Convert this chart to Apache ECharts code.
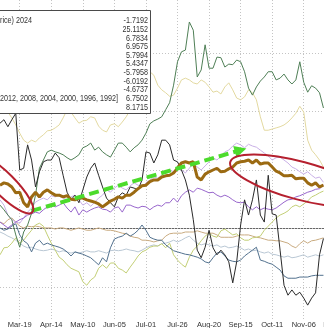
<!DOCTYPE html>
<html>
<head>
<meta charset="utf-8">
<script src="https://cdn.jsdelivr.net/npm/echarts@6/dist/echarts.min.js"></script>
<style>
  html, body { margin: 0; padding: 0; background: #fff; }
  #chart { width: 324px; height: 328px; }
</style>
</head>
<body>
<div id="chart"></div>
<script>
// Axis ticks: one label every 8 sample points, first labelled point is index 5
const tickLabels = ['Mar-19', 'Apr-14', 'May-10', 'Jun-05', 'Jul-01', 'Jul-26', 'Aug-20', 'Sep-15', 'Oct-11', 'Nov-06', 'Dec-02'];
const pointsPerTick = 8;
const firstTick = 5;
const categoryCount = firstTick + pointsPerTick * (tickLabels.length - 1) + 1;
const categories = Array.from({ length: categoryCount }, (_, i) => String(i));

// Horizontal reference levels (%)
const gridLevels = [-10, 0, 10, 20, 30];

// Seasonal paths, % change
const y2024 = [
  18.0, 18.6, 17.4, 18.6, 19.7, 10.0, 10.3, 14.3, 11.7, 7.1,
  9.7, 11.4, 11.7, 11.7, 12.9, 12.1, 9.1, 6.2, 4.9, 5.7,
  4.4, 6.6, 8.8, 10.3, 11.2, 9.1, 7.1, 5.2, 4.4, 3.7,
  5.4, 6.1, 5.7, 7.1, 6.9, 6.6, 8.3, 13.1, 12.9, 11.2,
  12.6, 15.1, 15.1, 14.3, 11.7, 11.4, 10.0, 8.3, 5.7, 1.5,
  -3.7, -5.0, -3.2, -0.3, -3.3, -4.5, -3.7, -4.5, -5.7, -9.3,
  -5.7, 0.6, 4.9, 2.3, 4.9, 8.3, 2.3, 1.1, 9.1, 2.5,
  2.3, -3.7, -9.7, -11.4, -10.5, -11.4, -10.9, -11.9, -13.1, -11.9,
  -11.0, -4.5, -1.7
];
const y2020 = [
  4.0, 3.2, 2.3, 1.5, -1.1, -3.2, -0.6, 0.6, 2.6, 5.7,
  10.3, 11.7, 13.1, 13.4, 13.1, 12.9, 12.6, 12.1, 11.7, 12.1,
  12.6, 13.8, 14.1, 14.6, 13.4, 13.9, 13.1, 12.6, 12.2, 13.4,
  14.6, 14.6, 13.9, 13.1, 13.8, 14.3, 15.1, 16.3, 17.9, 18.4,
  18.7, 19.1, 20.3, 21.5, 24.5, 28.5, 30.2, 30.5, 35.3, 33.9,
  25.9, 27.1, 31.4, 27.4, 27.4, 29.3, 29.2, 27.6, 28.1, 28.0,
  28.8, 28.5, 26.8, 24.0, 22.8, 24.2, 25.2, 25.9, 26.8, 26.8,
  25.4, 25.7, 26.4, 25.4, 24.7, 25.4, 28.5, 25.0, 23.3, 24.4,
  24.0, 23.2, 20.6
];
const y2016 = [
  20.6, 21.3, 19.9, 18.9, 17.7, 16.3, 15.1, 14.6, 15.1, 14.8,
  15.5, 16.0, 16.7, 16.8, 17.2, 17.7, 18.9, 20.3, 19.9, 18.9,
  18.0, 18.4, 18.5, 19.1, 18.9, 17.5, 16.8, 16.5, 17.7, 17.9,
  17.4, 18.2, 19.1, 20.3, 20.6, 22.0, 23.7, 25.0, 26.8, 26.2,
  24.5, 23.7, 23.2, 22.6, 22.8, 24.0, 25.4, 25.7, 25.4, 24.9,
  24.7, 25.4, 25.0, 24.2, 23.3, 23.5, 23.0, 24.2, 24.9, 23.7,
  22.3, 22.0, 22.5, 23.7, 23.2, 22.0, 19.1, 16.8, 16.8, 17.0,
  17.2, 17.4, 17.7, 18.2, 18.9, 19.7, 20.9, 19.9, 15.1, 13.4,
  12.6, 11.7, 10.5
];
const y2012 = [
  1.1, 0.6, 0.1, 0.6, 1.1, 1.5, 1.8, 2.3, 2.5, 2.8,
  2.6, 3.2, 3.7, 4.0, 3.7, 4.0, 4.4, 3.5, 2.8, 3.7,
  2.3, 3.2, 2.8, 3.2, 3.5, 3.7, 3.3, 3.2, 2.8, 3.5,
  3.7, 2.8, 4.0, 4.0, 3.7, 3.5, 3.8, 3.7, 3.2, 3.7,
  4.0, 3.8, 4.4, 4.4, 5.2, 4.5, 5.6, 6.2, 6.6, 6.2,
  6.9, 6.7, 6.4, 6.1, 6.2, 5.7, 5.4, 5.7, 5.4, 4.9,
  4.5, 4.4, 4.5, 3.7, 3.2, 3.7, 3.2, 3.5, 3.3, 3.2,
  3.5, 4.0, 4.5, 4.9, 5.0, 5.4, 5.6, 5.9, 6.2, 6.4,
  6.7, 6.8, 7.4
];
const y2008 = [
  4.9, 4.0, 2.3, 1.5, 1.1, 0.9, 1.8, 2.8, 3.5, 4.5,
  4.9, 5.2, 4.9, 5.6, 5.4, 5.9, 5.2, 4.9, 5.4, 5.7,
  4.9, 4.0, 4.4, 3.8, 4.5, 5.2, 5.7, 6.6, 6.2, 6.9,
  7.4, 6.9, 6.6, 7.3, 7.8, 7.4, 7.1, 7.8, 8.3, 8.8,
  8.6, 9.1, 9.7, 10.0, 9.7, 10.3, 10.0, 9.5, 10.3, 11.2,
  10.5, 10.0, 10.7, 11.4, 12.1, 11.7, 12.4, 13.1, 13.4, 14.1,
  14.6, 14.3, 13.8, 14.4, 14.1, 13.9, 13.4, 12.9, 12.4, 11.7,
  12.1, 12.2, 11.7, 11.2, 10.5, 10.2, 9.7, 9.3, 9.7, 9.1,
  8.6, 8.8, 7.9
];
const y2004 = [
  0.1, -0.3, -0.1, 0.4, 0.8, -1.1, -2.1, -2.6, -4.0, -2.5,
  -2.0, -2.8, -2.5, -2.8, -3.0, -3.2, -3.5, -4.0, -4.7, -4.0,
  -4.2, -4.4, -4.7, -5.0, -5.6, -6.2, -5.0, -5.7, -3.3, -1.8,
  -1.5, -1.3, -0.8, -1.3, -0.9, -0.3, 0.6, -0.3, -1.5, -1.8,
  -2.0, -2.0, -2.8, -3.3, -3.8, -4.0, -4.2, -4.4, -4.5, -4.7,
  -4.9, -5.2, -5.7, -5.9, -5.0, -4.2, -4.0, -4.7, -5.4, -5.6,
  -5.7, -5.4, -4.7, -4.2, -3.7, -3.2, -5.4, -5.6, -5.9, -6.1,
  -6.6, -7.1, -8.1, -8.5, -8.5, -8.5, -8.3, -8.3, -8.3, -8.1,
  -8.0, -8.0, -8.0
];
const y2000 = [
  -4.5, -3.3, -3.2, -2.5, -1.6, -2.5, -2.0, -1.1, -0.3, 0.6,
  0.9, 0.4, -1.1, -2.5, -3.7, -4.9, -5.4, -6.2, -6.8, -7.1,
  -7.4, -9.1, -9.7, -8.8, -8.3, -6.8, -6.2, -6.8, -5.9, -5.9,
  -6.8, -7.1, -7.6, -6.6, -5.7, -4.7, -4.0, -3.7, -3.2, -3.0,
  -3.0, -2.6, -3.3, -2.5, -4.5, -5.4, -6.1, -6.6, -4.9, -3.7,
  -3.0, -2.1, -1.3, -0.8, -1.3, -1.5, -0.4, -0.1, -0.6, -1.1,
  -0.9, -1.6, -2.0, -2.0, -1.6, -1.5, -1.3, -0.3, 0.4, 1.1,
  1.8, 2.3, 2.6, 3.0, 3.7, 4.0, 3.7, 4.2, 4.7, 5.4,
  5.7, 6.1, 6.4
];
const y1996 = [
  1.1, 0.8, 1.5, 1.8, 1.1, 0.4, 0.1, 0.4, 0.3, 0.4,
  0.3, 0.1, 0.1, 0.1, -0.1, 0.1, 0.1, -0.1, -0.3, -0.1,
  0.1, -0.1, -0.3, -0.3, -0.1, 0.1, -0.1, -0.3, -0.3, -0.4,
  -0.6, -0.8, -0.9, -1.3, -1.5, -1.6, -2.0, -2.0, -2.1, -2.3,
  -2.1, -2.0, -1.3, -0.9, -0.8, -0.8, -0.8, -0.6, -0.6, -0.6,
  -0.4, -0.6, -0.8, -0.8, -0.8, -1.1, -1.5, -1.5, -1.5, -1.5,
  -1.3, -1.1, -1.1, -1.1, -1.3, -1.5, -1.6, -1.8, -2.0, -2.0,
  -2.1, -2.1, -2.3, -2.5, -3.0, -3.3, -2.6, -2.1, -2.5, -2.1,
  -2.0, -1.8, -1.6
];
const y1992 = [
  -0.6, -0.9, -1.3, -1.6, -2.0, -2.5, -3.0, -3.3, -3.2, -3.5,
  -3.7, -3.8, -3.7, -3.5, -3.7, -4.0, -3.8, -4.0, -4.2, -4.0,
  -4.2, -4.0, -3.8, -4.0, -4.0, -3.8, -4.0, -4.2, -3.8, -3.7,
  -3.8, -3.7, -3.5, -3.7, -3.8, -4.0, -3.7, -3.3, -3.0, -2.8,
  -3.0, -2.6, -2.5, -2.3, -2.0, -2.3, -2.0, -1.6, -1.3, -2.0,
  -2.5, -2.8, -2.6, -2.8, -3.0, -2.8, -3.2, -3.0, -3.3, -3.2,
  -3.0, -3.3, -3.7, -3.5, -3.8, -3.7, -4.0, -4.2, -4.0, -4.4,
  -4.5, -4.7, -4.9, -4.7, -5.0, -4.9, -4.7, -4.5, -4.9, -4.7,
  -4.5, -4.7, -4.5
];
const yAverage = [
  7.4, 7.8, 7.6, 7.1, 6.1, 6.2, 4.4, 3.7, 5.4, 6.2,
  5.4, 6.2, 6.6, 6.1, 5.7, 5.7, 5.4, 5.6, 5.0, 4.9,
  5.2, 5.2, 4.9, 4.7, 4.5, 4.2, 3.7, 4.2, 4.7, 5.0,
  5.4, 5.2, 5.7, 5.7, 6.2, 6.8, 7.3, 7.4, 8.0, 8.3,
  8.3, 8.8, 9.0, 9.1, 9.5, 10.3, 11.2, 11.4, 11.2, 11.4,
  8.8, 8.3, 9.3, 9.7, 10.0, 10.3, 9.7, 9.8, 10.2, 10.5,
  11.2, 11.4, 11.5, 11.7, 11.2, 11.7, 11.0, 11.2, 11.2, 10.5,
  9.8, 9.5, 9.0, 9.0, 9.1, 8.5, 8.6, 8.6, 7.8, 7.4,
  7.8, 7.1, 7.4
];

// Legend panel text
const legendTitleTail = 'rice) 2024';
const averageYearsTail = '2012, 2008, 2004, 2000, 1996, 1992]';
const legendValues = ['-1.7192', '25.1152', '6.7834', '6.9575', '5.7994', '5.4347', '-5.7958', '-6.0192', '-4.6737', '6.7502', '8.1715'];

// Annotations, in data space: [point index, value]
const trendArrow = [[8, 3.0], [61, 13.4]];
const springDipCenter = [1, 7.6];
const autumnTopCenter = [76, 8.2];

const textFont = '"Liberation Sans", Arial, sans-serif';

const chart = echarts.init(document.getElementById('chart'), null, { renderer: 'canvas' });

function thinLine(name, data, color, z) {
  return {
    type: 'line', name, data, z,
    symbol: 'none', silent: true,
    lineStyle: { color, width: 1 },
    itemStyle: { color },
    emphasis: { disabled: true }
  };
}

const tickShown = (i) => i >= firstTick && (i - firstTick) % pointsPerTick === 0;

const gridLineSeries = thinLine('1996', y1996, '#c9ab80', 2);
gridLineSeries.markLine = {
  silent: true, symbol: 'none', z: 1,
  label: { show: false },
  lineStyle: { color: '#c4c4c4', width: 1, type: [1, 2] },
  data: gridLevels.map(v => ({ yAxis: v }))
};

const averageSeries = {
  type: 'line', name: 'Average', data: yAverage, z: 10,
  symbol: 'none', silent: true,
  lineStyle: { color: '#9b6a12', width: 3 },
  itemStyle: { color: '#9b6a12' },
  emphasis: { disabled: true },
  markLine: {
    silent: true, z: 20,
    symbol: ['none', 'triangle'],
    symbolSize: 12,
    label: { show: false },
    lineStyle: { color: '#4cdb2c', width: 4, type: [10, 5] },
    data: [[{ coord: trendArrow[0] }, { coord: trendArrow[1] }]]
  }
};

chart.setOption({
  animation: false,
  backgroundColor: '#ffffff',
  // the plot runs past the right edge; the last tick label is only partly in view
  grid: { left: 0, top: 0, bottom: 9, width: 335.3, outerBoundsMode: 'none' },
  xAxis: {
    type: 'category',
    data: categories,
    boundaryGap: false,
    axisLine: { lineStyle: { color: '#666', width: 1 } },
    axisTick: { show: false },
    axisLabel: {
      interval: (i) => tickShown(i),
      formatter: (v, i) => tickLabels[(i - firstTick) / pointsPerTick],
      fontSize: 7.5, fontFamily: textFont, color: '#333', margin: 2
    },
    splitLine: {
      show: true,
      interval: (i) => tickShown(i),
      lineStyle: { color: '#c4c4c4', width: 1, type: [1, 2] }
    }
  },
  yAxis: { type: 'value', min: -15.47, max: 39.06, show: false, splitLine: { show: false } },
  series: [
    thinLine('1992', y1992, '#b9c7d4', 2),
    gridLineSeries,
    thinLine('2000', y2000, '#c3cf76', 3),
    thinLine('2004', y2004, '#52718e', 3),
    thinLine('2008', y2008, '#c9b0e6', 4),
    thinLine('2012', y2012, '#9866cc', 4),
    thinLine('2016', y2016, '#e3d9a0', 4),
    thinLine('2020', y2020, '#4f7f56', 5),
    thinLine('2024', y2024, '#2a2a2a', 6),
    averageSeries
  ]
});

// Legend panel and annotation rings
const rowTop = 20.7, rowStep = 8.66;
const textBase = { fontSize: 9, fontFamily: textFont, fill: '#333', verticalAlign: 'middle' };
const p1 = chart.convertToPixel({ gridIndex: 0 }, springDipCenter);
const p2 = chart.convertToPixel({ gridIndex: 0 }, autumnTopCenter);

const graphics = [
  { type: 'ellipse', z: 60, silent: true, x: p1[0], y: p1[1], rotation: -Math.PI / 4,
    shape: { cx: 0, cy: 0, rx: 40, ry: 11 },
    style: { fill: 'none', stroke: '#b5202e', lineWidth: 2 } },
  { type: 'ellipse', z: 60, silent: true, x: p2[0], y: p2[1], rotation: -15 * Math.PI / 180,
    shape: { cx: 0, cy: 0, rx: 72, ry: 19 },
    style: { fill: 'none', stroke: '#b5202e', lineWidth: 2 } },
  { type: 'rect', z: 100, silent: true,
    shape: { x: -0.5, y: 10.5, width: 151, height: 103 },
    style: { fill: '#ffffff', stroke: '#4a4a4a', lineWidth: 1 } },
  { type: 'text', z: 101, silent: true, x: 0, y: rowTop, scaleX: 0.8,
    style: Object.assign({ text: legendTitleTail, align: 'left' }, textBase) },
  { type: 'text', z: 101, silent: true, x: 0, y: rowTop + 9 * rowStep, scaleX: 0.8,
    style: Object.assign({ text: averageYearsTail, align: 'left' }, textBase) }
];
legendValues.forEach((t, k) => {
  graphics.push({ type: 'text', z: 101, silent: true, x: 148, y: rowTop + k * rowStep, scaleX: 0.8,
    style: Object.assign({ text: t, align: 'right' }, textBase) });
});
chart.setOption({ graphic: graphics });
</script>
</body>
</html>
